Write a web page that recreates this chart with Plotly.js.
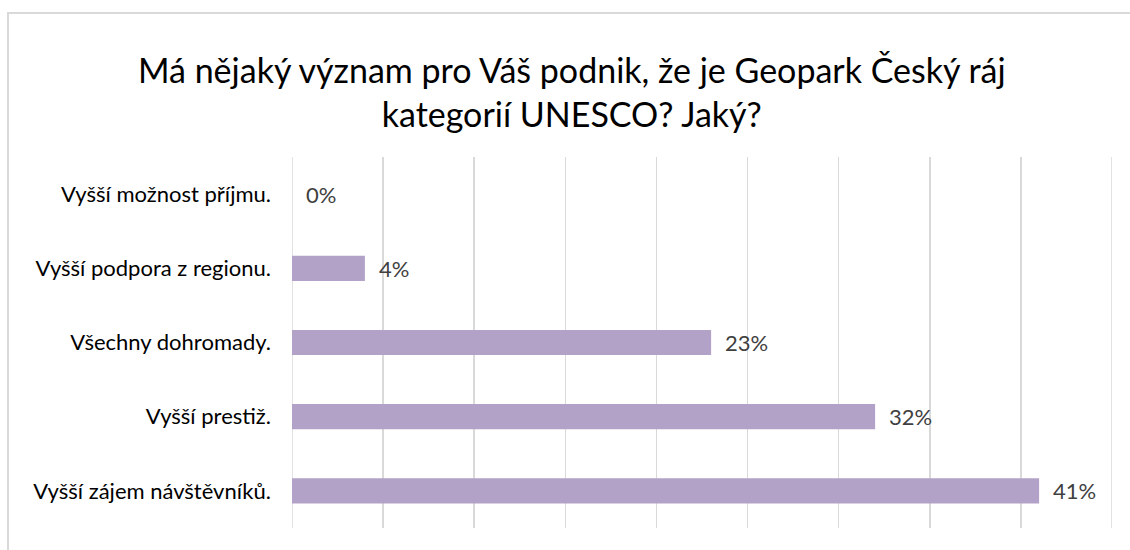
<!DOCTYPE html>
<html>
<head>
<meta charset="utf-8">
<script src="https://cdn.plot.ly/plotly-3.0.1.min.js"></script>
<style>
  html, body { margin: 0; padding: 0; background: #ffffff; }
  #wrap { position: relative; width: 1130px; height: 550px; overflow: hidden; }
  #chart { position: absolute; left: 0; top: 0; width: 1130px; height: 550px; }
  #frame { position: absolute; left: 7px; top: 12px; width: 1200px; height: 600px;
           border: 2px solid #D9D9D9; pointer-events: none; box-sizing: border-box; }
</style>
</head>
<body>
<div id="wrap">
  <div id="chart"></div>
  <div id="frame"></div>
</div>
<script>
const titleText = "Má nějaký význam pro Váš podnik, že je Geopark Český ráj<br>kategorií UNESCO? Jaký?";
const categories = [
  "Vyšší možnost příjmu.",
  "Vyšší podpora z regionu.",
  "Všechny dohromady.",
  "Vyšší prestiž.",
  "Vyšší zájem návštěvníků."
];
const values = [0, 4, 23, 32, 41];
const valueLabels = ["0%", "4%", "23%", "32%", "41%"];
const axisMin = 0;
const axisMax = 45;

const trace = {
  type: "bar",
  orientation: "h",
  y: categories,
  x: values,
  width: 0.34,
  marker: { color: "#B3A2C7", line: { width: 0 } },
  hoverinfo: "skip"
};

const annotations = values.map((v, i) => ({
  x: v, y: categories[i], xref: "x", yref: "y",
  text: valueLabels[i], showarrow: false,
  xanchor: "left", yanchor: "middle", xshift: 12,
  font: { family: "Lato, sans-serif", size: 22, color: "#404040" }
}));

const edgeLines = [axisMin, axisMax].map(v => ({
  type: "line", xref: "x", yref: "paper",
  x0: v, x1: v, y0: 0, y1: 1, layer: "below",
  line: { color: "#D9D9D9", width: 1.5 }
}));

const layout = {
  width: 1130, height: 550,
  margin: { l: 292, r: 18, t: 157, b: 22 },
  paper_bgcolor: "rgba(0,0,0,0)",
  plot_bgcolor: "rgba(0,0,0,0)",
  showlegend: false,
  title: {
    text: titleText,
    x: 0.506, xanchor: "center",
    y: 0.849, yanchor: "middle",
    font: { family: "Lato, sans-serif", size: 34, color: "#000000" }
  },
  xaxis: {
    range: [axisMin, axisMax], dtick: 5, tick0: 0,
    showticklabels: false, ticks: "",
    showgrid: true, gridcolor: "#D9D9D9", gridwidth: 1.5,
    zeroline: false, showline: false, fixedrange: true
  },
  yaxis: {
    autorange: "reversed", type: "category",
    ticks: "", showgrid: false, zeroline: false, showline: false,
    ticklabelstandoff: 20,
    tickfont: { family: "Lato, sans-serif", size: 22, color: "#000000" },
    fixedrange: true
  },
  shapes: edgeLines,
  annotations: annotations
};

Plotly.newPlot("chart", [trace], layout, { displayModeBar: false, staticPlot: true });
</script>
</body>
</html>
